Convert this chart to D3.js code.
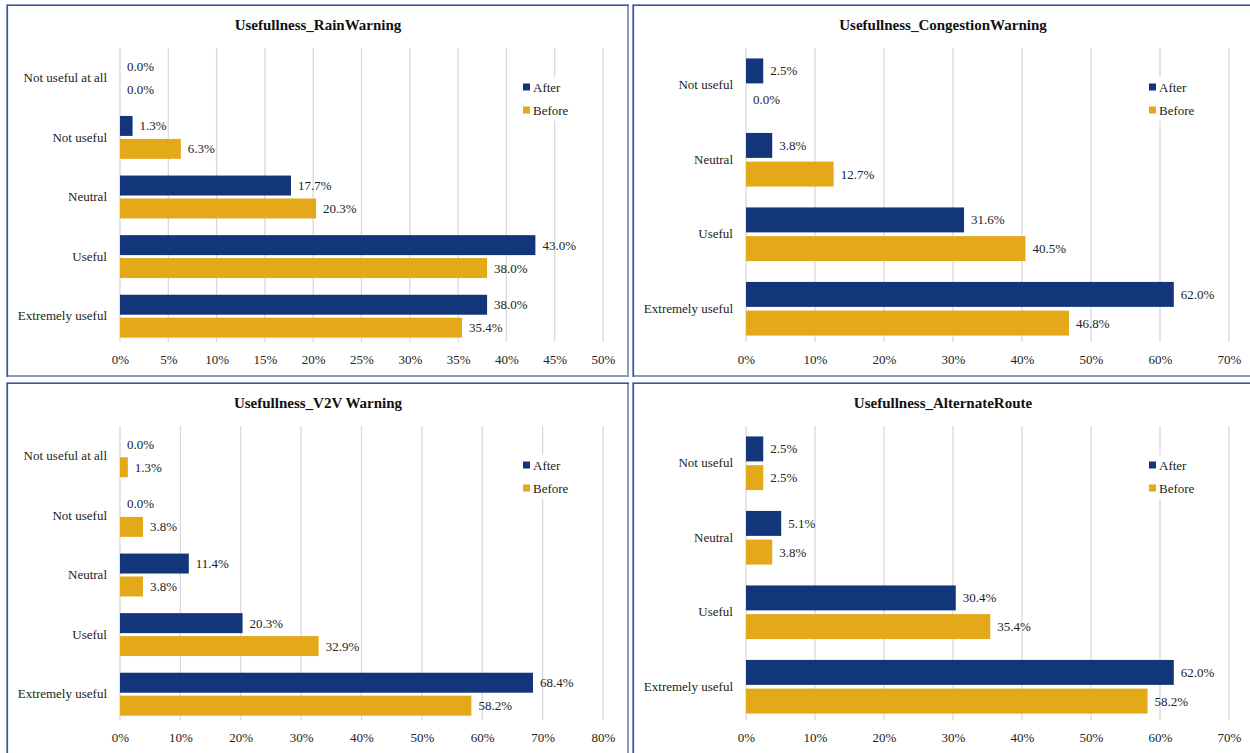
<!DOCTYPE html>
<html>
<head>
<meta charset="utf-8">
<script src="https://cdn.jsdelivr.net/npm/d3@7"></script>
<style>
  html, body { margin: 0; padding: 0; background: #fff; }
  svg { display: block; }
  text { font-family: 'Liberation Serif', 'Times New Roman', serif; }
</style>
</head>
<body>
<svg id="chart" width="1250" height="753"></svg>
<script>
// ---- data ----
const titles = ["Usefullness_RainWarning", "Usefullness_CongestionWarning", "Usefullness_V2V Warning", "Usefullness_AlternateRoute"];
const categories5 = ["Not useful at all", "Not useful", "Neutral", "Useful", "Extremely useful"];
const categories4 = ["Not useful", "Neutral", "Useful", "Extremely useful"];
const seriesNames = ["After", "Before"];

const rainAfter = [0.0, 1.3, 17.7, 43.0, 38.0];
const rainBefore = [0.0, 6.3, 20.3, 38.0, 35.4];
const congestionAfter = [2.5, 3.8, 31.6, 62.0];
const congestionBefore = [0.0, 12.7, 40.5, 46.8];
const v2vAfter = [0.0, 0.0, 11.4, 20.3, 68.4];
const v2vBefore = [1.3, 3.8, 3.8, 32.9, 58.2];
const altAfter = [2.5, 5.1, 30.4, 62.0];
const altBefore = [2.5, 3.8, 35.4, 58.2];

const rainTicks = [0, 5, 10, 15, 20, 25, 30, 35, 40, 45, 50];
const congestionTicks = [0, 10, 20, 30, 40, 50, 60, 70];
const v2vTicks = [0, 10, 20, 30, 40, 50, 60, 70, 80];
const altTicks = [0, 10, 20, 30, 40, 50, 60, 70];

// ---- styles / layout ----
const colors = { After: "#13357a", Before: "#e3a919" };
const svg = d3.select("#chart");
svg.append("rect").attr("width", 1250).attr("height", 753).attr("fill", "#fff");

const panels = [
  { x: 7, y: 5, w: 622, h: 372, title: titles[0], cats: categories5, after: rainAfter, before: rainBefore, ticks: rainTicks },
  { x: 633, y: 5, w: 620, h: 372, title: titles[1], cats: categories4, after: congestionAfter, before: congestionBefore, ticks: congestionTicks },
  { x: 7, y: 383, w: 622, h: 375, title: titles[2], cats: categories5, after: v2vAfter, before: v2vBefore, ticks: v2vTicks },
  { x: 633, y: 383, w: 620, h: 375, title: titles[3], cats: categories4, after: altAfter, before: altBefore, ticks: altTicks }
];

panels.forEach(p => {
  const g = svg.append("g").attr("transform", `translate(${p.x},${p.y})`);

  const x0 = 113, plotW = 483;
  const yTop = 43, yBot = 341, gridBot = 337;
  const x = d3.scaleLinear().domain([0, d3.max(p.ticks)]).range([x0, x0 + plotW]);
  const y = d3.scaleBand().domain(p.cats).range([yTop, yBot]);
  const bw = y.bandwidth();
  const barH = bw * 0.335;
  const gap = bw * 0.05;
  const outer = (bw - 2 * barH - gap) / 2;

  // title
  g.append("text")
    .attr("x", p.w / 2).attr("y", 25)
    .attr("text-anchor", "middle")
    .attr("font-size", 15).attr("font-weight", "bold").attr("fill", "#111")
    .text(p.title);

  // gridlines
  g.append("g").selectAll("line").data(p.ticks).join("line")
    .attr("x1", d => x(d)).attr("x2", d => x(d))
    .attr("y1", yTop).attr("y2", gridBot)
    .attr("stroke", "#d9d9d9").attr("stroke-width", 1.3);

  // x axis tick labels
  const axis = d3.axisBottom(x).tickValues(p.ticks).tickFormat(d => d + "%").tickSize(0).tickPadding(0);
  const ag = g.append("g").attr("transform", `translate(0,${350})`).call(axis);
  ag.select(".domain").remove();
  ag.selectAll("text").attr("font-size", 13).attr("fill", "#222")
    .attr("font-family", "'Liberation Serif', 'Times New Roman', serif").attr("dy", "0.71em").attr("y", 0);

  // category labels
  const yaxis = d3.axisLeft(y).tickSize(0).tickPadding(0);
  const yg = g.append("g").attr("transform", `translate(${x0 - 13},0)`).call(yaxis);
  yg.select(".domain").remove();
  yg.selectAll("text").attr("font-size", 13).attr("fill", "#222")
    .attr("font-family", "'Liberation Serif', 'Times New Roman', serif");

  // bars
  const rows = p.cats.map((c, i) => ({ cat: c, After: p.after[i], Before: p.before[i] }));
  seriesNames.forEach((s, si) => {
    const off = outer + si * (barH + gap);
    g.append("g").selectAll("rect").data(rows).join("rect")
      .attr("x", x(0))
      .attr("y", d => y(d.cat) + off)
      .attr("width", d => x(d[s]) - x(0))
      .attr("height", barH)
      .attr("fill", colors[s]);
    g.append("g").selectAll("text").data(rows).join("text")
      .attr("x", d => x(d[s]) + 7)
      .attr("y", d => y(d.cat) + off + barH / 2)
      .attr("dy", "0.35em")
      .attr("font-size", 13).attr("fill", "#222")
      .text(d => d[s].toFixed(1) + "%");
  });

  // legend
  const lg = g.append("g").attr("transform", `translate(511,72)`);
  lg.append("rect").attr("x", 0).attr("y", 0).attr("width", 58).attr("height", 44).attr("fill", "#fff");
  seriesNames.forEach((s, i) => {
    const cy = 10 + i * 23;
    lg.append("rect").attr("x", 5).attr("y", cy - 3.5).attr("width", 7).attr("height", 7).attr("fill", colors[s]);
    lg.append("text").attr("x", 15).attr("y", cy).attr("dy", "0.35em")
      .attr("font-size", 13).attr("fill", "#222").text(s);
  });

  // frame
  g.append("rect").attr("x", 0).attr("y", 0).attr("width", p.w - 1).attr("height", p.h - 1)
    .attr("fill", "none").attr("stroke", "#8a9cc6").attr("stroke-width", 2);
  g.append("path").attr("d", `M0.5,${p.h}V0.5H${p.w}`)
    .attr("fill", "none").attr("stroke", "#3a5596").attr("stroke-width", 1.2);
});
</script>
</body>
</html>
